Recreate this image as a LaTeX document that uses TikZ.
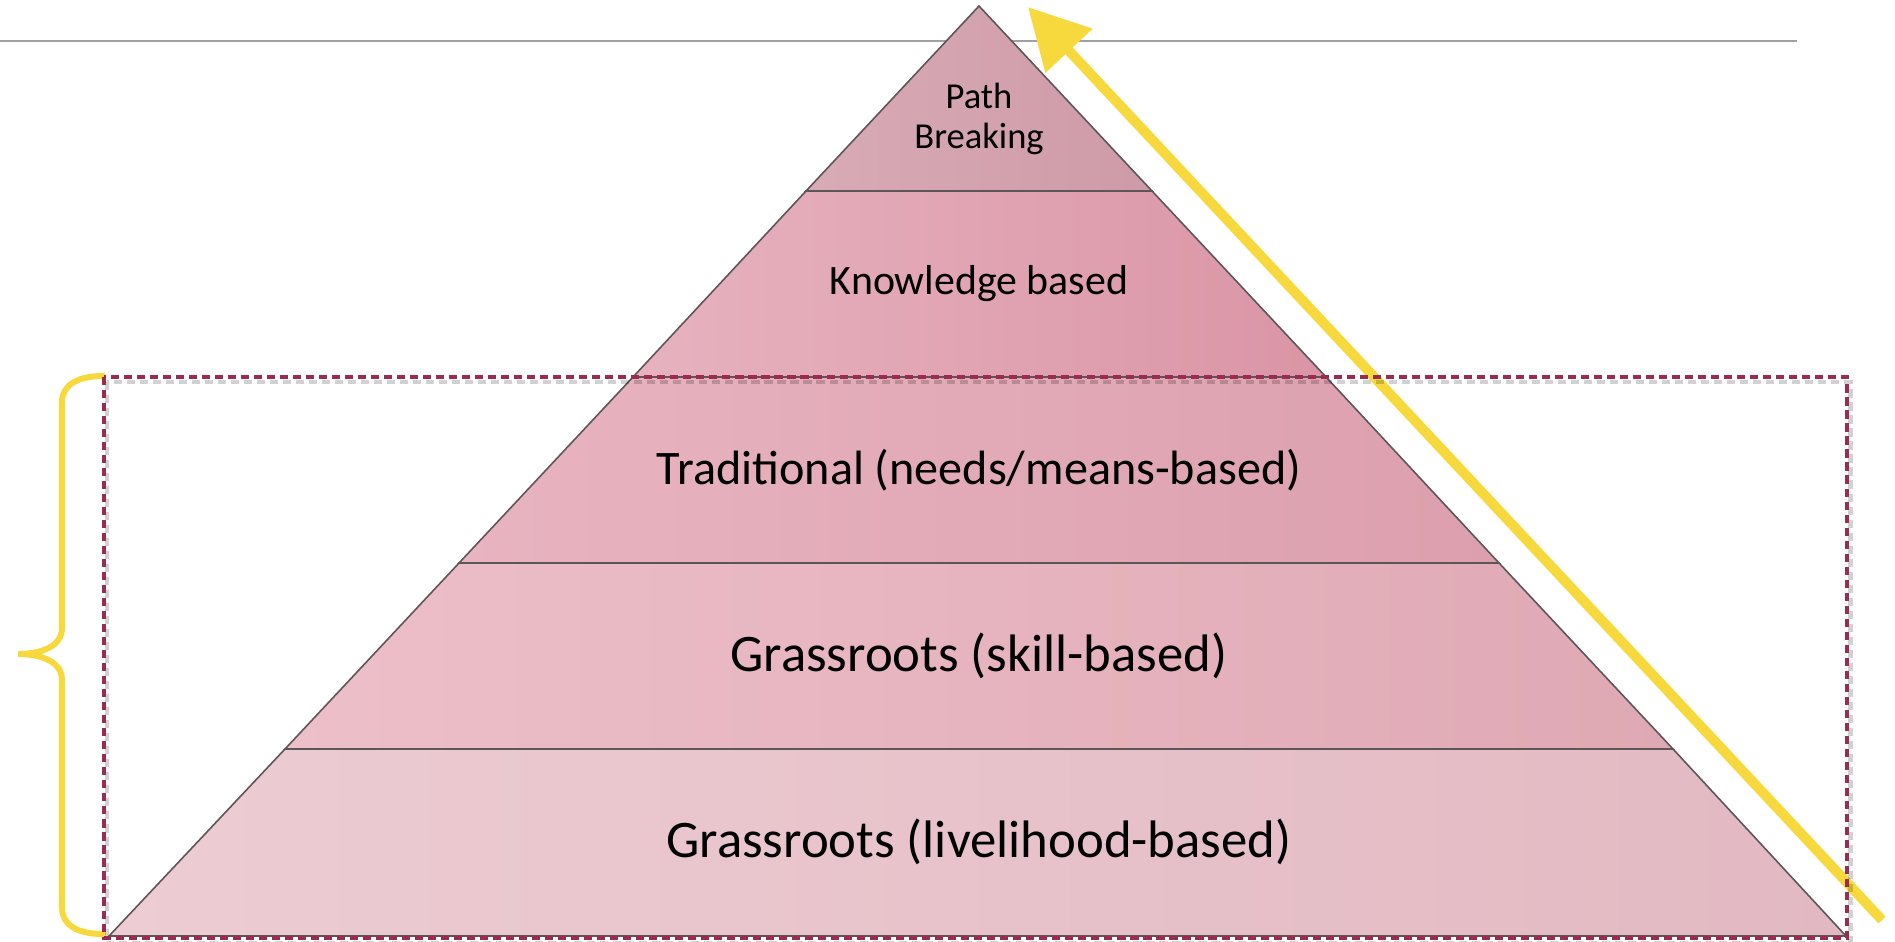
\documentclass[tikz,border=0pt]{standalone}
\usepackage{fontspec}
\setmainfont{Carlito}
\usetikzlibrary{arrows.meta}
\definecolor{edgegray}{HTML}{5E5558}
\definecolor{rulegray}{HTML}{A0A0A0}
\definecolor{dashred}{HTML}{9B2B4F}
\definecolor{yel}{HTML}{F7D93E}
\definecolor{aL}{HTML}{D8ABB6}\definecolor{aR}{HTML}{CE9AA7}
\definecolor{bL}{HTML}{E7B2BF}\definecolor{bR}{HTML}{DA95A5}
\definecolor{cL}{HTML}{E8B4C0}\definecolor{cR}{HTML}{DC9FAD}
\definecolor{dL}{HTML}{EDBFC9}\definecolor{dR}{HTML}{DFA9B4}
\definecolor{eL}{HTML}{EDCCD3}\definecolor{eR}{HTML}{E2B9C2}
\tikzset{
  layer/.style={draw=edgegray, line width=0.45pt},
  lbl/.style={inner sep=0pt, align=center, text=black},
  bigtxt/.style={lbl, font=\fontsize{15}{18}\selectfont},
  trtxt/.style={lbl, font=\fontsize{13.7}{16}\selectfont},
  midtxt/.style={lbl, font=\fontsize{11.9}{14}\selectfont},
  smalltxt/.style={lbl, font=\fontsize{10.4}{11.5}\selectfont},
  dashbox/.style={line width=1pt, dash pattern=on 2.3pt off 1.4pt},
}
\begin{document}
\begin{tikzpicture}[x=0.01cm, y=-0.01cm]
\useasboundingbox (0,0) rectangle (1895,941);
% top rule behind the pyramid
\coordinate (r1) at (0,41);
\coordinate (r2) at (1797,41);
\draw[rulegray, line width=0.6pt] (r1) -- (r2);
% pyramid corners
\coordinate (apex) at (979,6);
\coordinate (l1) at (806,191);  \coordinate (r1p) at (1152,191);
\coordinate (l2) at (633,377);  \coordinate (r2p) at (1326,377);
\coordinate (l3) at (459,563);  \coordinate (r3p) at (1499,563);
\coordinate (l4) at (285,749);  \coordinate (r4p) at (1673,749);
\coordinate (l5) at (109,936);  \coordinate (r5p) at (1846,936);
\path[layer, left color=eL, right color=eR] (l4) -- (r4p) -- (r5p) -- (l5) -- cycle;
\path[layer, left color=dL, right color=dR] (l3) -- (r3p) -- (r4p) -- (l4) -- cycle;
\path[layer, left color=cL, right color=cR] (l2) -- (r2p) -- (r3p) -- (l3) -- cycle;
\path[layer, left color=bL, right color=bR] (l1) -- (r1p) -- (r2p) -- (l2) -- cycle;
\path[layer, left color=aL, right color=aR] (apex) -- (r1p) -- (l1) -- cycle;
% labels
\node[smalltxt] (pb) at (979,119) {Path\\Breaking};
\node[midtxt] (kb) at (979,284) {Knowledge based};
\node[trtxt] (tr) at (979,470) {Traditional (needs/means-based)};
\node[bigtxt] (gs) at (979,656) {Grassroots (skill-based)};
\node[bigtxt] (gl) at (979,842) {Grassroots (livelihood-based)};
% yellow arrow
\coordinate (atail) at (1882,920);
\coordinate (atip) at (1028,7);
\draw[yel, line width=0.1cm, -{Triangle[length=0.6cm, width=0.62cm]}] (atail) -- (atip);
% yellow brace
\coordinate (bt) at (103,376);
\coordinate (bm) at (18,654);
\coordinate (bb) at (103,934);
\draw[yel, line width=0.06cm, line cap=round]
  (bt) .. controls (76,376) and (62,386) .. (62,402) -- (62,628)
  .. controls (62,646) and (42,654) .. (bm)
  .. controls (42,654) and (62,662) .. (62,680) -- (62,908)
  .. controls (62,924) and (76,934) .. (bb);
% dashed box with shadow
\coordinate (d1) at (104,377);
\coordinate (d2) at (1847,938);
\draw[dashbox, black, opacity=0.18, line width=1.4pt] ([shift={(3,5)}]d1) rectangle ([shift={(3,5)}]d2);
\draw[dashbox, dashred] (d1) rectangle (d2);
\end{tikzpicture}
\end{document}
